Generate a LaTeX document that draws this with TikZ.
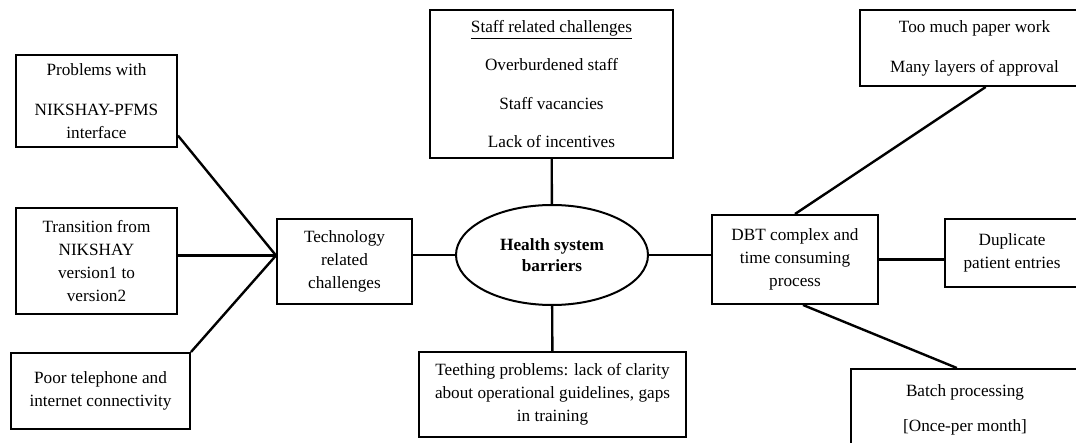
\documentclass[tikz,border=0pt]{standalone}
\usepackage{fontspec}
\setmainfont{Liberation Serif}
\usetikzlibrary{shapes.geometric}
\tikzset{
  box/.style={draw, line width=1pt, rectangle, align=center, inner sep=2pt,
    font=\fontsize{8.6}{11.5}\selectfont},
  hub/.style={draw, line width=1pt, ellipse, align=center, inner sep=1pt,
    minimum width=96pt, minimum height=50pt,
    font=\fontsize{8.6}{10.5}\selectfont\bfseries}
}
\begin{document}
\begin{tikzpicture}[x=0.5pt,y=-0.5pt]
      \useasboundingbox (0,0) rectangle (1076,443);
      \clip (0,0) rectangle (1076,443);
      \draw
        (96.5,101) node[box, minimum width=80.5pt, minimum height=46pt] (probs){Problems with\\[8.5pt]NIKSHAY-PFMS\\interface}
        (96.5,261) node[box, minimum width=80.5pt, minimum height=53pt] (trans){Transition from\\NIKSHAY\\version1 to\\version2}
        (100.5,391) node[box, minimum width=89.5pt, minimum height=38pt] (poor){Poor telephone and\\internet connectivity}
        (344.5,261.5) node[box, minimum width=67.5pt, minimum height=42.5pt] (tech){Technology\\related\\challenges}
        (551.5,84) node[box, minimum width=121.5pt, minimum height=74pt] (staff){\underline{Staff related challenges}\\[7.7pt]Overburdened staff\\[7.7pt]Staff vacancies\\[7.7pt]Lack of incentives}
        (552,255) node[hub] (hsb){Health system\\barriers}
        (552.5,394.5) node[box, minimum width=133.5pt, minimum height=42.5pt] (teeth){Teething problems: lack of clarity\\about operational guidelines, gaps\\in training}
        (795,259.5) node[box, minimum width=83pt, minimum height=44.5pt] (dbt){DBT complex and\\time consuming\\process}
        (1012,253) node[box, minimum width=67pt, minimum height=34pt] (dup){Duplicate\\patient entries}
        (974.5,48) node[box, minimum width=114.5pt, minimum height=38pt] (paper){Too much paper work\\[8.5pt]Many layers of approval}
        (965,410) node[box, minimum width=114pt, minimum height=41pt] (batch){Batch processing\\[6pt][Once-per month]};
      \begin{scope}[-, line width=1.2pt]
        \draw (probs.-23) to (tech.175);
        \draw (trans.east |- tech.175) to (tech.175);
        \draw (poor.north east) to (tech.175);
        \draw (hsb.west -| tech.east) to (hsb.west);
        \draw (staff) to (hsb);
        \draw (hsb) to (teeth);
        \draw (hsb.east) to (hsb.east -| dbt.west);
        \draw (dbt.east) to (dbt.east -| dup.west);
        \draw (dbt.north) to (paper.-74);
        \draw (dbt.-80) to (batch.101);
      \end{scope}
    \end{tikzpicture}
\end{document}
